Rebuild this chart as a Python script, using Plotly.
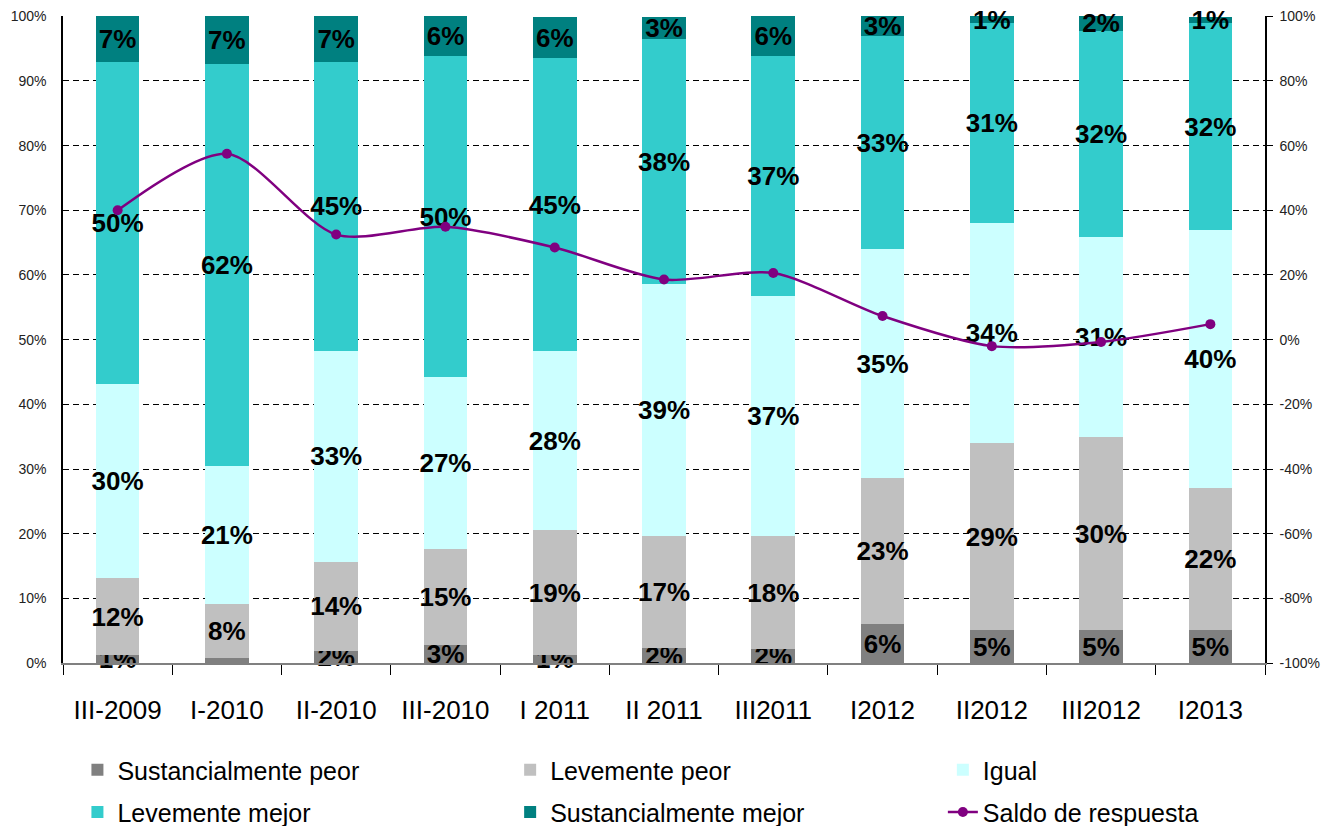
import plotly.graph_objects as go

categories = ["III-2009", "I-2010", "II-2010", "III-2010", "I 2011", "II 2011",
              "III2011", "I2012", "II2012", "III2012", "I2013"]

sust_peor = [1.2, 0.8, 1.9, 2.8, 1.2, 2.3, 2.1, 6.0, 5.1, 5.1, 5.1]
lev_peor = [11.9, 8.3, 13.7, 14.8, 19.3, 17.3, 17.6, 22.6, 28.9, 29.8, 21.9]
igual = [30.0, 21.4, 32.7, 26.6, 27.8, 39.0, 37.1, 35.4, 34.1, 31.0, 40.0]
lev_mejor = [49.9, 62.1, 44.7, 49.6, 45.2, 37.9, 37.0, 32.9, 30.8, 31.9, 31.9]
sust_mejor = [7.0, 7.4, 7.0, 6.2, 6.4, 3.4, 6.2, 3.1, 1.1, 2.2, 1.0]
saldo = [40.0, 57.5, 32.5, 34.9, 28.5, 18.6, 20.6, 7.3, -2.0, -0.7, 4.8]

left_ticks = list(range(0, 101, 10))
left_labels = [f"{v}%" for v in left_ticks]
right_ticks = list(range(-100, 101, 20))
right_labels = [f"{v}%" for v in right_ticks]

series = [
    ("Sustancialmente peor", sust_peor, "#808080", "legend"),
    ("Levemente peor", lev_peor, "#C0C0C0", "legend2"),
    ("Igual", igual, "#CCFFFF", "legend3"),
    ("Levemente mejor", lev_mejor, "#33CCCC", "legend4"),
    ("Sustancialmente mejor", sust_mejor, "#008080", "legend5"),
]

fig = go.Figure()
for name, vals, color, lg in series:
    texts = [("" if v < 1 else f"{round(v):.0f}%") for v in vals]
    fig.add_trace(go.Bar(
        x=categories, y=vals, name=name, marker=dict(color=color, line=dict(width=0)),
        text=texts, textposition="inside", insidetextanchor="middle",
        constraintext="none", textangle=0, cliponaxis=False,
        textfont=dict(family="Liberation Sans, Arial, sans-serif", size=26,
                      color="#000000", weight="bold"),
        legend=lg, hoverinfo="skip",
    ))

fig.add_trace(go.Scatter(
    x=categories, y=saldo, name="Saldo de respuesta", yaxis="y2",
    mode="lines+markers", line=dict(color="#800080", width=2.5, shape="spline", smoothing=0.8),
    marker=dict(color="#800080", size=10), legend="legend6",
))

legend_font = dict(family="Liberation Sans, Arial, sans-serif", size=25, color="#000000")


def leg(x, y):
    return dict(orientation="h", xanchor="left", yanchor="top", x=x, y=y,
                font=legend_font, bgcolor="rgba(0,0,0,0)", borderwidth=0)


row1, row2 = -0.13, -0.195
col1, col2, col3 = 0.012, 0.372, 0.732

fig.update_layout(
    width=1330, height=826,
    margin=dict(l=55, r=73, t=8, b=171, autoexpand=False),
    paper_bgcolor="white", plot_bgcolor="white",
    barmode="stack", bargap=0.6,
    showlegend=True,
    legend=leg(col1, row1), legend2=leg(col2, row1), legend3=leg(col3, row1),
    legend4=leg(col1, row2), legend5=leg(col2, row2), legend6=leg(col3, row2),
    xaxis=dict(
        type="category", showline=True, linecolor="#808080", linewidth=2,
        ticks="outside", tickson="boundaries", ticklen=10, tickcolor="#000000",
        tickfont=dict(family="Liberation Sans, Arial, sans-serif", size=26, color="#000000"),
        ticklabelstandoff=23, showgrid=False, zeroline=False,
        range=[-0.5, 10.5],
    ),
    yaxis=dict(
        range=[0, 100.05], tickvals=left_ticks, ticktext=left_labels,
        showline=True, linecolor="#000000", linewidth=1.5, ticks="", ticklen=5,
        tickcolor="#000000", ticklabelstandoff=12, ticklabeloverflow="allow",
        tickfont=dict(family="Liberation Sans, Arial, sans-serif", size=14, color="#222222"),
        showgrid=True, gridcolor="#000000", griddash="6px,4px", gridwidth=1,
        zeroline=False,
    ),
    yaxis2=dict(
        range=[-100, 100.1], tickvals=right_ticks, ticktext=right_labels,
        overlaying="y", side="right",
        showline=True, linecolor="#000000", linewidth=1.5, ticks="outside", ticklen=6,
        tickcolor="#000000", ticklabelstandoff=4, ticklabeloverflow="allow",
        tickfont=dict(family="Liberation Sans, Arial, sans-serif", size=14, color="#222222"),
        showgrid=False, zeroline=False,
    ),
)

fig.write_html("out.html")
